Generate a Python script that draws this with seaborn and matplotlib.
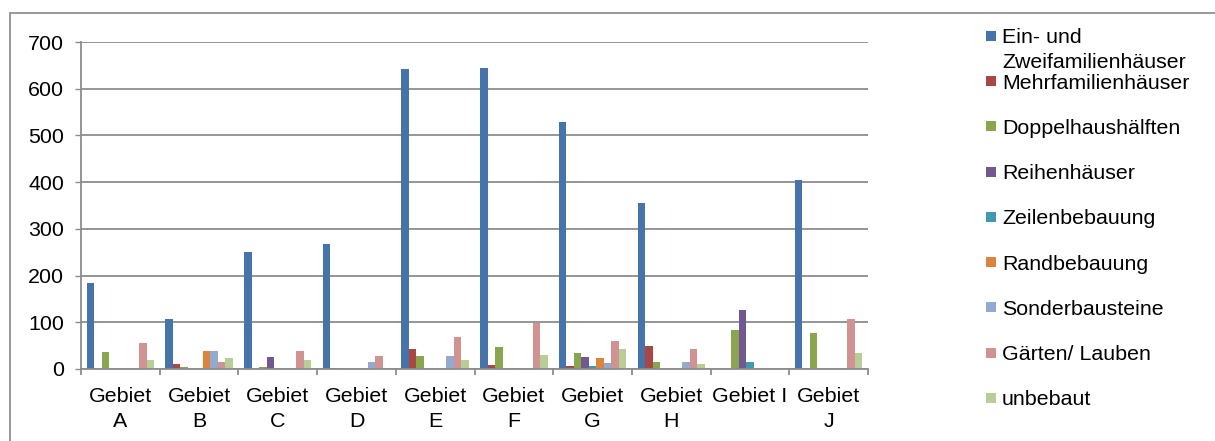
import matplotlib
matplotlib.use("Agg")
import matplotlib.pyplot as plt
from matplotlib.patches import Rectangle
import numpy as np
import pandas as pd
import seaborn as sns

# Areas and building types
gebiete = ["A", "B", "C", "D", "E", "F", "G", "H", "I", "J"]
tick_labels = ["Gebiet\nA", "Gebiet\nB", "Gebiet\nC", "Gebiet\nD", "Gebiet\nE",
               "Gebiet\nF", "Gebiet\nG", "Gebiet\nH", "Gebiet I", "Gebiet\nJ"]
kategorien = ["Ein- und\nZweifamilienhäuser", "Mehrfamilienhäuser", "Doppelhaushälften",
              "Reihenhäuser", "Zeilenbebauung", "Randbebauung", "Sonderbausteine",
              "Gärten/ Lauben", "unbebaut"]

ein_zwei = [184, 108, 250, 268, 642, 645, 528, 355, 0, 405]
mehrfam = [0, 10, 0, 3, 43, 9, 7, 49, 0, 1]
doppel = [36, 5, 5, 3, 28, 47, 34, 16, 84, 77]
reihen = [0, 0, 25, 0, 0, 0, 26, 0, 126, 0]
zeilen = [0, 0, 0, 0, 0, 2, 6, 0, 14, 0]
rand = [0, 38, 0, 0, 0, 0, 23, 0, 0, 0]
sonder = [0, 38, 0, 15, 27, 3, 13, 14, 0, 0]
gaerten = [56, 15, 38, 27, 68, 99, 60, 43, 0, 107]
unbebaut = [19, 23, 19, 3, 19, 30, 43, 11, 0, 35]

serien = [ein_zwei, mehrfam, doppel, reihen, zeilen, rand, sonder, gaerten, unbebaut]
farben = ["#4674AA", "#AA4643", "#89A54E", "#71588F", "#4198AF",
          "#DB843D", "#93A9CF", "#D19392", "#B9CD96"]

rows = []
for kat, werte in zip(kategorien, serien):
    for lab, w in zip(tick_labels, werte):
        rows.append({"Gebiet": lab, "Kategorie": kat, "Wert": w})
df = pd.DataFrame(rows)

sns.set_theme(style="white")
plt.rcParams["font.family"] = ["Liberation Sans", "DejaVu Sans"]
FS = 15.4
GRID = "#8C8C8C"

fig = plt.figure(figsize=(12.15, 4.41), dpi=100)
ax = fig.add_axes([81 / 1215, 1 - 369 / 441, (868 - 81) / 1215, (369 - 42) / 441])

sns.barplot(data=df, x="Gebiet", y="Wert", hue="Kategorie", order=tick_labels,
            hue_order=kategorien, palette=farben, width=0.857, saturation=1,
            errorbar=None, linewidth=0, legend=False, ax=ax)

ax.set_xlim(-0.5, len(gebiete) - 0.5)
ax.set_ylim(0, 700)
ax.set_yticks(np.arange(0, 701, 100))
ax.yaxis.grid(True, color=GRID, linewidth=1.3)
ax.set_axisbelow(True)
ax.set_xlabel("")
ax.set_ylabel("")

for s in ["top", "right"]:
    ax.spines[s].set_visible(False)
for s in ["left", "bottom"]:
    ax.spines[s].set_color(GRID)
    ax.spines[s].set_linewidth(1.3)

ax.tick_params(axis="y", which="major", left=True, length=4.3, width=1, color=GRID,
               pad=8, labelsize=FS, labelcolor="black")
ax.tick_params(axis="x", which="major", bottom=False, length=0, pad=13,
               labelsize=FS, labelcolor="black")
ax.set_xticks(np.arange(-0.5, len(gebiete)), minor=True)
ax.tick_params(axis="x", which="minor", bottom=True, length=4.3, width=1.3, color=GRID)
for t in ax.get_xticklabels():
    t.set_linespacing(1.4)
    t.set_verticalalignment("top")

# Legend, equally spaced entries on the right
for i, (kat, col) in enumerate(zip(kategorien, farben)):
    yc = 34.8 + 45.25 * i
    fig.patches.append(Rectangle((986 / 1215, 1 - (yc + 6) / 441), 10 / 1215, 10 / 441,
                                 transform=fig.transFigure, facecolor=col,
                                 edgecolor="none", figure=fig))
    lines = kat.split("\n")
    for j, line in enumerate(lines):
        fig.text(1002 / 1215, 1 - (yc + 1 + 25 * j) / 441, line, fontsize=FS,
                 ha="left", va="center_baseline", color="black")

# Chart area border
fig.patches.append(Rectangle((10 / 1215, -0.05), 1.1, 0.05 + 1 - 13 / 441,
                             transform=fig.transFigure, facecolor="none",
                             edgecolor="#878787", linewidth=1.2, figure=fig))

fig.savefig("out.png", dpi=100, facecolor="white")
